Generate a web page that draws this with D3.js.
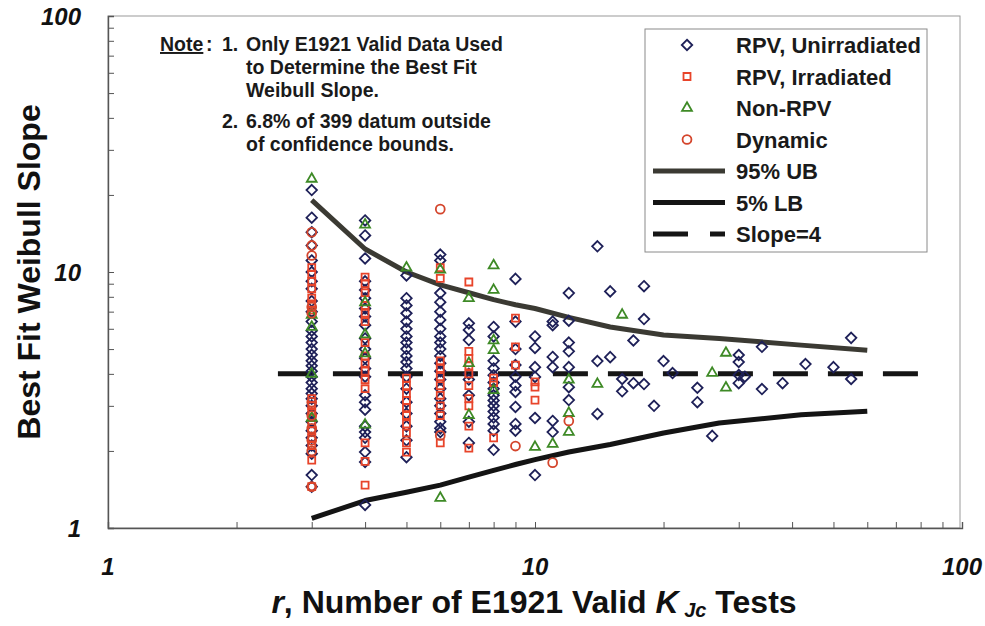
<!DOCTYPE html>
<html>
<head>
<meta charset="utf-8">
<script src="https://cdn.jsdelivr.net/npm/d3@7"></script>
<style>
  html, body { margin: 0; padding: 0; background: #fff; }
  svg { display: block; font-family: "Liberation Sans", Arial, sans-serif; }
</style>
</head>
<body>
<svg id="chart" width="985" height="626"></svg>
<script>
// Weibull slope estimates, grouped as [r, slope] pairs per material class
const rpvUnirradiated = [
  [3,20.9],[3,16.3],[3,14.3],[3,12.7],[3,11.1],[3,10.0],[3,9.2],[3,8.6],[3,7.7],[3,7.0],[3,6.4],[3,5.9],[3,5.6],[3,5.3],[3,5.0],[3,4.75],[3,4.5],[3,4.3],[3,4.1],[3,3.9],[3,3.7],[3,3.5],[3,3.35],[3,3.2],[3,3.0],[3,2.8],[3,2.6],[3,2.4],[3,2.25],[3,2.1],[3,1.95],[3,1.61],[3,1.45],
  [4,15.9],[4,13.9],[4,11.3],[4,9.2],[4,8.5],[4,7.9],[4,7.2],[4,6.7],[4,6.2],[4,5.5],[4,5.0],[4,4.6],[4,4.2],[4,3.9],[4,3.3],[4,3.1],[4,2.9],[4,2.5],[4,2.37],[4,2.25],[4,1.98],[4,1.81],[4,1.23],
  [5,9.7],[5,7.9],[5,7.4],[5,6.9],[5,6.4],[5,6.0],[5,5.6],[5,5.3],[5,5.0],[5,4.7],[5,4.45],[5,4.2],[5,3.9],[5,3.5],[5,3.1],[5,2.8],[5,2.5],[5,2.2],[5,1.89],
  [6,11.7],[6,11.1],[6,8.27],[6,7.62],[6,7.0],[6,6.5],[6,6.0],[6,5.6],[6,5.3],[6,5.0],[6,4.7],[6,4.4],[6,4.1],[6,3.8],[6,3.5],[6,3.2],[6,3.0],[6,2.8],[6,2.6],[6,2.45],[6,2.37],
  [7,6.3],[7,5.94],[7,5.42],[7,4.0],[7,3.8],[7,3.3],[7,2.6],[7,2.15],
  [8,6.1],[8,5.6],[8,4.5],[8,4.2],[8,3.95],[8,3.7],[8,3.5],[8,3.3],[8,3.15],[8,3.0],[8,2.85],[8,2.7],[8,2.55],[8,2.4],[8,2.02],
  [9,9.4],[9,6.4],[9,5.0],[9,4.33],[9,3.9],[9,3.6],[9,3.4],[9,2.97],[9,2.55],[9,2.4],
  [10,5.6],[10,5.05],[10,4.25],[10,3.89],[10,2.69],[10,1.61],
  [11,6.4],[11,6.2],[11,4.66],[11,4.25],[11,2.62],[11,2.37],
  [12,8.27],[12,6.45],[12,5.3],[12,4.9],[12,4.25],[12,3.55],[12,3.16],
  [14,12.6],[14,4.49],[14,2.79],
  [15,8.4],[15,4.65],
  [16,3.82],[16,3.42],
  [17,5.4],[17,3.68],
  [18,8.8],[18,6.55],[18,3.65],
  [19,3.0],[20,4.49],[21,4.03],
  [24,3.53],[24,3.1],[26,2.29],
  [30,4.74],[30,4.45],[30,3.96],[30,3.68],[31,3.9],
  [34,5.1],[34,3.49],[38,3.68],[43,4.37],[50,4.25],[55,5.53],[55,3.82]
];

const rpvIrradiated = [
  [3,10.4],[3,9.8],[3,9.2],[3,8.6],[3,7.9],[3,7.5],[3,7.1],[3,3.2],[3,3.0],[3,2.85],[3,2.7],[3,2.55],[3,2.4],[3,2.25],[3,2.1],[3,1.84],[3,1.45],
  [4,9.55],[4,9.0],[4,8.3],[4,7.4],[4,6.9],[4,6.4],[4,5.3],[4,4.7],[4,4.4],[4,4.1],[4,3.8],[4,3.5],[4,2.15],[4,1.82],[4,1.47],
  [5,3.85],[5,3.6],[5,3.35],[5,3.15],[5,2.95],[5,2.75],[5,2.55],[5,2.35],[5,2.15],[5,1.98],
  [6,10.4],[6,9.45],[6,4.5],[6,4.2],[6,3.9],[6,3.6],[6,3.3],[6,3.0],[6,2.75],[6,2.15],
  [7,9.14],[7,4.9],[7,4.6],[7,4.3],[7,4.0],[7,3.6],[7,3.2],[7,3.0],[7,2.5],[7,2.05],
  [8,3.85],[8,3.7],[8,2.25],
  [9,6.6],[9,5.1],[9,4.33],
  [10,3.72],[10,3.55],[10,3.16]
];

const nonRpv = [
  [3,23.1],[3,6.8],[3,6.1],[3,4.0],[3,2.69],
  [4,15.3],[4,7.6],[4,5.7],[4,4.8],[4,2.53],
  [5,10.4],
  [6,10.2],[6,1.31],
  [7,7.9],[7,4.4],[7,2.76],
  [8,10.6],[8,8.5],[8,5.4],[8,4.95],[8,3.45],
  [10,2.07],[11,2.13],
  [12,3.79],[12,2.81],[12,2.37],
  [14,3.65],[16,6.8],[26,4.03],[28,4.83],[28,3.53]
];

const dynamic = [
  [3,14.3],[3,12.7],[3,11.6],[3,7.3],[3,6.9],[3,3.1],[3,2.75],[3,2.45],[3,2.2],[3,2.0],[3,1.45],
  [6,17.6],[6,2.3],
  [9,2.09],[11,1.8],[12,2.62]
];

// 95% upper and 5% lower confidence bounds on the Weibull slope
const boundR  = [3, 4, 5, 6, 7, 8, 9, 10, 12, 15, 20, 27, 42, 60];
const upper95 = [19.1, 12.3, 10.0, 8.9, 8.3, 7.8, 7.45, 7.2, 6.65, 6.1, 5.67, 5.5, 5.18, 4.95];
const lower5  = [1.09, 1.28, 1.38, 1.47, 1.58, 1.68, 1.77, 1.85, 1.98, 2.12, 2.35, 2.57, 2.77, 2.86];

// Reference slope line
const slopeRefR = [2.5, 80];
const slopeRef = 4;

const tickValues = [1, 10, 100];
const noteLines = [
  ["Note", "1.", "Only E1921 Valid Data Used"],
  ["", "", "to Determine the Best Fit"],
  ["", "", "Weibull Slope."],
  ["", "2.", "6.8% of 399 datum  outside"],
  ["", "", "of confidence bounds."]
];

const svg = d3.select("#chart");
const x = d3.scaleLog().domain([1, 100]).range([108, 962]);
const y = d3.scaleLog().domain([1, 100]).range([528, 16]);

const col = {
  dia: "#1e2058",
  sq: "#e8442a",
  tri: "#3e8a26",
  circ: "#d4452c",
  ub: "#3b3a33",
  lb: "#141414",
  axis: "#555"
};

// Plot frame
svg.append("rect")
  .attr("x", x(1)).attr("y", y(100))
  .attr("width", x(100) - x(1) - 2).attr("height", y(1) - y(100))
  .attr("fill", "none").attr("stroke", "#9a9a9a").attr("stroke-width", 1);

// Minor/major ticks (drawn inward)
const logTicks = [];
for (let d = 1; d < 100; d *= 10) for (let k = 1; k <= 10; k++) logTicks.push(d * k);
const uniqTicks = Array.from(new Set(logTicks));

const axisX = d3.axisBottom(x).tickValues(uniqTicks).tickSize(-6).tickFormat("");
svg.append("g").attr("transform", `translate(0,${y(1)})`).call(axisX)
  .call(g => g.select(".domain").attr("stroke", col.axis).attr("stroke-width", 1.4))
  .call(g => g.selectAll(".tick line").attr("stroke", col.axis));

const axisY = d3.axisLeft(y).tickValues(uniqTicks).tickSize(-6).tickFormat("");
svg.append("g").attr("transform", `translate(${x(1)},0)`).call(axisY)
  .call(g => g.select(".domain").attr("stroke", col.axis).attr("stroke-width", 1.4))
  .call(g => g.selectAll(".tick line").attr("stroke", col.axis));

// Tick labels
svg.append("g").selectAll("text").data(tickValues).join("text")
  .attr("x", d => x(d)).attr("y", 575)
  .attr("text-anchor", "middle")
  .attr("font-size", 24).attr("font-weight", "bold").attr("font-style", "italic")
  .attr("fill", "#111")
  .text(d => d);

svg.append("g").selectAll("text").data(tickValues).join("text")
  .attr("x", 81).attr("y", d => y(d) + 9)
  .attr("text-anchor", "end")
  .attr("font-size", 24).attr("font-weight", "bold").attr("font-style", "italic")
  .attr("fill", "#111")
  .text(d => d);

// Axis titles
svg.append("text")
  .attr("transform", `translate(40,${272}) rotate(-90)`)
  .attr("text-anchor", "middle")
  .attr("font-size", 32).attr("font-weight", "bold").attr("fill", "#111")
  .text("Best Fit Weibull Slope");

const xt = svg.append("text")
  .attr("x", 534).attr("y", 613)
  .attr("text-anchor", "middle")
  .attr("font-size", 32).attr("font-weight", "bold").attr("fill", "#111");
xt.append("tspan").attr("font-style", "italic").text("r");
xt.append("tspan").text(", Number of E1921 Valid ");
xt.append("tspan").attr("font-style", "italic").text("K");
xt.append("tspan").attr("font-style", "italic").attr("font-size", 20).attr("dy", 4).text(" Jc");
xt.append("tspan").attr("dy", -4).text(" Tests");

// Confidence bounds and reference slope
const line = d3.line().x(d => x(d[0])).y(d => y(d[1]));
svg.append("path").datum(d3.zip(boundR, upper95)).attr("d", line)
  .attr("fill", "none").attr("stroke", col.ub).attr("stroke-width", 5).attr("stroke-linejoin", "round");
svg.append("path").datum(d3.zip(boundR, lower5)).attr("d", line)
  .attr("fill", "none").attr("stroke", col.lb).attr("stroke-width", 5).attr("stroke-linejoin", "round");
svg.append("path").datum(slopeRefR.map(r => [r, slopeRef])).attr("d", line)
  .attr("fill", "none").attr("stroke", "#151515").attr("stroke-width", 5).attr("stroke-dasharray", "35,20");

// Markers
const sym = {
  dia: d3.symbol().type(d3.symbolDiamond2).size(70),
  sq: d3.symbol().type(d3.symbolSquare2).size(62),
  tri: d3.symbol().type(d3.symbolTriangle2).size(70),
  circ: d3.symbol().type(d3.symbolCircle).size(62)
};
function drawSeries(data, key) {
  svg.append("g").selectAll("path").data(data).join("path")
    .attr("transform", d => `translate(${x(d[0])},${y(d[1])})`)
    .attr("d", sym[key]())
    .attr("fill", "none").attr("stroke", col[key]).attr("stroke-width", 1.8);
}
drawSeries(rpvUnirradiated, "dia");
drawSeries(rpvIrradiated, "sq");
drawSeries(nonRpv, "tri");
drawSeries(dynamic, "circ");

// Note block
const note = svg.append("g").attr("font-size", 19.5).attr("font-weight", "bold").attr("fill", "#1a1a1a");
const noteY = [51, 74, 97, 128, 151];
noteLines.forEach((ln, i) => {
  if (ln[0]) {
    note.append("text").attr("x", 160).attr("y", noteY[i]).attr("text-decoration", "underline").text(ln[0]);
    note.append("text").attr("x", 206).attr("y", noteY[i]).text(":");
  }
  if (ln[1]) note.append("text").attr("x", 222).attr("y", noteY[i]).text(ln[1]);
  note.append("text").attr("x", 246).attr("y", noteY[i]).text(ln[2]);
});

// Legend
const legendItems = [
  { label: "RPV, Unirradiated", key: "dia" },
  { label: "RPV, Irradiated", key: "sq" },
  { label: "Non-RPV", key: "tri" },
  { label: "Dynamic", key: "circ" },
  { label: "95% UB", line: col.ub },
  { label: "5% LB", line: col.lb },
  { label: "Slope=4", line: "#151515", dash: true }
];
const lg = svg.append("g");
lg.append("rect").attr("x", 645).attr("y", 29).attr("width", 282).attr("height", 223)
  .attr("fill", "#fff").attr("stroke", "#8a8a8a").attr("stroke-width", 1);
legendItems.forEach((it, i) => {
  const cy = 45 + i * 31.5;
  if (it.key) {
    lg.append("path").attr("transform", `translate(687,${cy})`).attr("d", sym[it.key]())
      .attr("fill", "none").attr("stroke", col[it.key]).attr("stroke-width", 1.8);
  } else if (it.dash) {
    lg.append("line").attr("x1", 653).attr("x2", 688).attr("y1", cy).attr("y2", cy)
      .attr("stroke", it.line).attr("stroke-width", 5);
    lg.append("line").attr("x1", 710).attr("x2", 725).attr("y1", cy).attr("y2", cy)
      .attr("stroke", it.line).attr("stroke-width", 5);
  } else {
    lg.append("line").attr("x1", 653).attr("x2", 725).attr("y1", cy).attr("y2", cy)
      .attr("stroke", it.line).attr("stroke-width", 5);
  }
  lg.append("text").attr("x", 736).attr("y", cy + 8)
    .attr("font-size", 22).attr("font-weight", "bold").attr("fill", "#1a1a1a")
    .text(it.label);
});
</script>
</body>
</html>
